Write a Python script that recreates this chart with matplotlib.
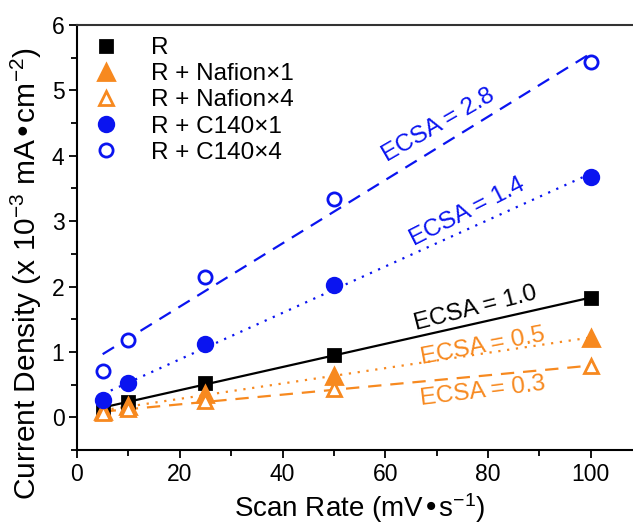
import numpy as np
import matplotlib
matplotlib.use('Agg')
import matplotlib.pyplot as plt
from matplotlib.ticker import MultipleLocator

plt.rcParams['font.family'] = ['Liberation Sans', 'DejaVu Sans']
plt.rcParams['mathtext.default'] = 'regular'

scanRate = [5, 10, 25, 50, 100]
currentR = [0.12, 0.24, 0.53, 0.96, 1.82]
currentNafion1 = [0.09, 0.17, 0.36, 0.63, 1.22]
currentNafion4 = [0.07, 0.12, 0.25, 0.44, 0.78]
currentC140_1 = [0.27, 0.53, 1.12, 2.03, 3.68]
currentC140_4 = [0.71, 1.19, 2.15, 3.34, 5.43]
seriesNames = ['R', 'R + Nafion×1', 'R + Nafion×4', 'R + C140×1', 'R + C140×4']
ecsaLabels = ['ECSA = 1.0', 'ECSA = 0.5', 'ECSA = 0.3', 'ECSA = 1.4', 'ECSA = 2.8']

orange = '#F7891F'
blue = '#0A14F0'
styles = [
    dict(marker='s', color='black', mfc='black', ls='-', ms=8.5),
    dict(marker='^', color=orange, mfc=orange, ls=(0, (1, 3)), ms=11),
    dict(marker='^', color=orange, mfc='white', ls=(0, (6, 4)), ms=10.5),
    dict(marker='o', color=blue, mfc=blue, ls=(0, (1, 3)), ms=10.5),
    dict(marker='o', color=blue, mfc='white', ls=(0, (6, 4)), ms=9.5),
]
# label positions (data coords) and rotation in degrees
labelPos = [(77.6, 1.66, 14.4), (79.0, 1.08, 10.7), (79.0, 0.40, 7), (75.9, 3.14, 27), (70.4, 4.47, 30)]

fig = plt.figure(figsize=(6.33, 5.29), dpi=100)
ax = fig.add_axes([0.1216, 0.1493, 0.893, 0.8034])

allData = [currentR, currentNafion1, currentNafion4, currentC140_1, currentC140_4]
x = np.array(scanRate)
for y, name, st, lab, pos in zip(allData, seriesNames, styles, ecsaLabels, labelPos):
    k, b = np.polyfit(x, y, 1)
    xx = np.array([x.min(), x.max()])
    ax.plot(xx, k * xx + b, color=st['color'], ls=st['ls'], lw=1.6, zorder=2)
    ax.plot(x, y, ls='none', marker=st['marker'], ms=st['ms'], color=st['color'],
            mfc=st['mfc'], mec=st['color'], mew=2, label=name, zorder=3)
    ax.text(pos[0], pos[1], lab, color=st['color'], fontsize=17.5, rotation=pos[2],
            ha='center', va='center', rotation_mode='anchor')

ax.set_xlim(0, 110)
ax.set_ylim(-0.5, 6)
ax.xaxis.set_major_locator(MultipleLocator(20))
ax.xaxis.set_minor_locator(MultipleLocator(10))
ax.yaxis.set_major_locator(MultipleLocator(1))
ax.yaxis.set_minor_locator(MultipleLocator(0.5))
ax.tick_params(which='both', direction='out', top=False, right=False, width=1.3, labelsize=16.5)
ax.tick_params(which='major', length=6, pad=3)
ax.tick_params(which='minor', length=4)
for s in ['left', 'bottom']:
    ax.spines[s].set_linewidth(1.5)
ax.spines['top'].set_linewidth(1.5)
ax.spines['top'].set_color('#333333')
ax.spines['right'].set_visible(False)

ax.set_xlabel('Scan Rate (mV•s$^{-1}$)', fontsize=20, labelpad=4)
ax.set_ylabel('Current Density (x 10$^{-3}$ mA•cm$^{-2}$)', fontsize=21.5)
ax.yaxis.set_label_coords(-0.058, 0.415)

ax.legend(loc='upper left', frameon=False, fontsize=17.5, handletextpad=1.15,
          labelspacing=0.17, borderaxespad=0.1, handlelength=1.4,
          bbox_to_anchor=(0.0, 1.0))

fig.savefig('out.png', dpi=100)
